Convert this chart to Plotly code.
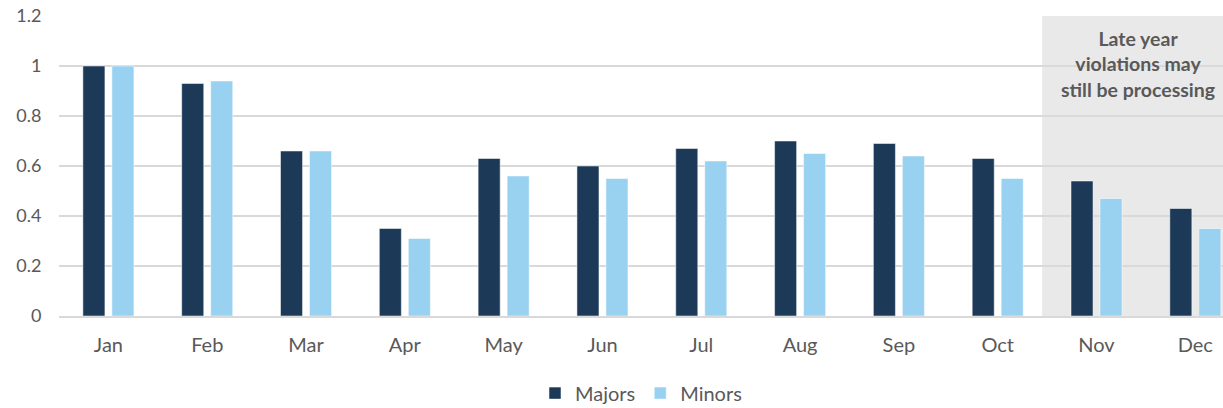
import plotly.graph_objects as go

months = ["Jan", "Feb", "Mar", "Apr", "May", "Jun", "Jul", "Aug", "Sep", "Oct", "Nov", "Dec"]
majors = [1.00, 0.93, 0.66, 0.35, 0.63, 0.60, 0.67, 0.70, 0.69, 0.63, 0.54, 0.43]
minors = [1.00, 0.94, 0.66, 0.31, 0.56, 0.55, 0.62, 0.65, 0.64, 0.55, 0.47, 0.35]
y_ticks = [0, 0.2, 0.4, 0.6, 0.8, 1.0, 1.2]
y_labels = ["0", "0.2", "0.4", "0.6", "0.8", "1", "1.2"]
note_text = "Late year<br>violations may<br>still be processing"

FONT = "Lato"
TXT = "#595959"

fig = go.Figure()
fig.add_trace(go.Bar(x=months, y=majors, name="Majors", marker=dict(color="#1c3a57", line=dict(color="#ffffff", width=0.5))))
fig.add_trace(go.Bar(x=months, y=minors, name="Minors", marker=dict(color="#99d1f0", line=dict(color="#ffffff", width=0.5))))

fig.add_shape(type="rect", xref="x", yref="y", x0=9.45, x1=11.28, y0=0, y1=1.2,
              fillcolor="#e9e9e9", line=dict(width=0), layer="below")
fig.add_annotation(x=10.42, y=1.163, xref="x", yref="y", text=note_text, showarrow=False,
                   yanchor="top", align="center",
                   font=dict(family=FONT, size=19.5, color=TXT, weight="bold"))

fig.update_layout(
    width=1223, height=408,
    margin=dict(l=59, r=0, t=16, b=92, autoexpand=False),
    paper_bgcolor="white", plot_bgcolor="rgba(0,0,0,0)",
    barmode="group", bargap=0.413, bargroupgap=0.24,
    font=dict(family=FONT, color=TXT),
    legend=dict(orientation="h", x=0.5, xanchor="center", y=-0.257, yanchor="middle",
                font=dict(size=20, color=TXT), itemwidth=30, traceorder="normal"),
    showlegend=True,
)
fig.update_xaxes(range=[-0.5, 11.28], showgrid=False, showline=True, linecolor="#d9d9d9", linewidth=2,
                 automargin=False,
                 tickfont=dict(size=20, color=TXT), ticks="outside", ticklen=10, tickcolor="rgba(0,0,0,0)")
fig.update_yaxes(range=[0, 1.2001], tickmode="array", tickvals=y_ticks, ticktext=y_labels,
                 showgrid=True, gridcolor="#d9d9d9", gridwidth=1.5,
                 zeroline=False, showline=False, automargin=False,
                 tickfont=dict(size=18, color=TXT), ticks="outside", ticklen=13, tickcolor="rgba(0,0,0,0)")

fig.write_html("out.html", config={"displayModeBar": False},
               post_script="document.body.style.margin='0';document.body.style.overflow='hidden';")
